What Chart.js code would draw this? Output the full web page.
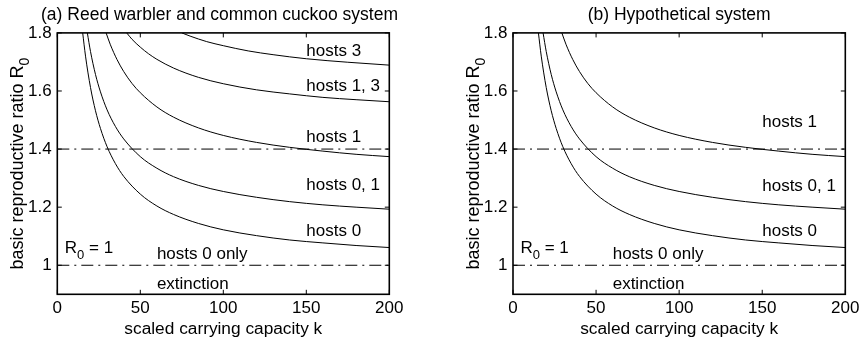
<!DOCTYPE html>
<html>
<head>
<meta charset="utf-8">
<script src="https://cdn.jsdelivr.net/npm/chart.js@4.4.1/dist/chart.umd.min.js"></script>
<style>
html,body{margin:0;padding:0;background:#fff;}
#wrap{position:relative;width:862px;height:345px;overflow:hidden;background:#fff;}
.pane{position:absolute;top:0;height:345px;}
</style>
</head>
<body>
<div id="wrap">
  <div class="pane" style="left:0;width:439px"><canvas id="ca" width="439" height="345"></canvas></div>
  <div class="pane" style="left:431px;width:431px"><canvas id="cb" width="431" height="345"></canvas></div>
</div>
<script>
// ---- data ----
const kTicks = [0, 50, 100, 150, 200];
const rTicks = [1, 1.2, 1.4, 1.6, 1.8];

const kHosts0 = [15.3, 17, 20, 23, 26, 30, 35, 40, 50, 60, 70, 85, 100, 120, 140, 160, 180, 200];
const rHosts0 = [1.800, 1.720, 1.612, 1.532, 1.471, 1.408, 1.350, 1.306, 1.245, 1.204, 1.175, 1.144, 1.122, 1.102, 1.087, 1.077, 1.068, 1.061];

const kHosts01 = [18.1, 20, 23, 26, 30, 35, 40, 50, 60, 70, 85, 100, 120, 140, 160, 180, 200];
const rHosts01 = [1.800, 1.736, 1.657, 1.597, 1.535, 1.478, 1.435, 1.374, 1.334, 1.305, 1.275, 1.254, 1.234, 1.219, 1.208, 1.200, 1.193];

const kHosts1 = [29.4, 32, 36, 40, 45, 50, 60, 70, 85, 100, 120, 140, 160, 180, 200];
const rHosts1 = [1.800, 1.759, 1.708, 1.667, 1.626, 1.594, 1.545, 1.510, 1.473, 1.447, 1.423, 1.406, 1.393, 1.382, 1.374];

const kHosts13 = [41.8, 45, 50, 55, 60, 70, 85, 100, 120, 140, 160, 180, 200];
const rHosts13 = [1.800, 1.778, 1.751, 1.728, 1.709, 1.679, 1.647, 1.625, 1.604, 1.590, 1.578, 1.570, 1.563];

const kHosts3 = [75, 80, 90, 100, 115, 130, 150, 175, 200];
const rHosts3 = [1.800, 1.789, 1.770, 1.756, 1.738, 1.725, 1.711, 1.699, 1.689];

const kThresholdSpan = [0, 200];
const rThresholds = [1.4, 1.0];

const panelTitles = ['(a) Reed warbler and common cuckoo system', '(b) Hypothetical system'];
const xAxisTitle = 'scaled carrying capacity k';
const yAxisTitle = 'basic reproductive ratio R';
const yAxisSub = '0';

// region labels (text, k, R at baseline)
const labelTextsA = ['hosts 3', 'hosts 1, 3', 'hosts 1', 'hosts 0, 1', 'hosts 0', 'hosts 0 only', 'extinction'];
const labelKA = [150, 150, 150, 150, 150, 60, 60];
const labelRA = [1.72, 1.60, 1.426, 1.26, 1.10, 1.023, 0.917];
const labelTextsB = ['hosts 1', 'hosts 0, 1', 'hosts 0', 'hosts 0 only', 'extinction'];
const labelKB = [150, 150, 150, 60, 60];
const labelRB = [1.477, 1.257, 1.102, 1.023, 0.917];
const r0LabelK = 4.5, r0LabelR = 1.043;

// ---- rendering ----
const FONT = '"Liberation Sans", Arial, Helvetica, sans-serif';
Chart.defaults.font.family = FONT;
Chart.defaults.font.size = 17;
Chart.defaults.color = '#000';

function curve(k, r) {
  return {
    data: k.map((x, i) => ({x: x, y: r[i]})),
    showLine: true, borderColor: '#000', borderWidth: 1, pointRadius: 0,
    cubicInterpolationMode: 'monotone', fill: false
  };
}
function threshold(level) {
  return {
    data: kThresholdSpan.map(x => ({x: x, y: level})),
    showLine: true, borderColor: '#000', borderWidth: 1, pointRadius: 0,
    borderDash: [12, 5, 2, 5], fill: false
  };
}

const decor = {
  id: 'decor',
  afterDraw(chart, args, opts) {
    const {ctx, chartArea: a, scales: {x, y}} = chart;
    ctx.save();
    ctx.fillStyle = '#000';
    ctx.textBaseline = 'alphabetic';
    ctx.textAlign = 'left';
    ctx.font = '17px ' + FONT;
    opts.texts.forEach((t, i) => {
      ctx.fillText(t, x.getPixelForValue(opts.ks[i]), y.getPixelForValue(opts.rs[i]));
    });
    // R0 = 1
    let px = x.getPixelForValue(r0LabelK), py = y.getPixelForValue(r0LabelR);
    ctx.fillText('R', px, py);
    px += ctx.measureText('R').width;
    ctx.font = '13px ' + FONT;
    ctx.fillText('0', px, py + 6);
    px += ctx.measureText('0').width;
    ctx.font = '17px ' + FONT;
    ctx.fillText(' = 1', px, py);
    // y axis title (rotated, with subscript)
    ctx.font = '18px ' + FONT;
    const w1 = ctx.measureText(yAxisTitle).width;
    ctx.font = '14px ' + FONT;
    const w2 = ctx.measureText(yAxisSub).width;
    const cy = (a.top + a.bottom) / 2;
    ctx.translate(a.left - 34, cy + (w1 + w2) / 2);
    ctx.rotate(-Math.PI / 2);
    ctx.font = '18px ' + FONT;
    ctx.fillText(yAxisTitle, 0, 0);
    ctx.font = '14px ' + FONT;
    ctx.fillText(yAxisSub, w1, 6);
    ctx.setTransform(1, 0, 0, 1, 0, 0);
    // box and inward ticks
    const TL = 4.5;
    ctx.strokeStyle = '#000';
    ctx.lineWidth = 1;
    ctx.beginPath();
    kTicks.forEach(v => {
      const p = x.getPixelForValue(v);
      ctx.moveTo(p, a.bottom); ctx.lineTo(p, a.bottom - TL);
      ctx.moveTo(p, a.top); ctx.lineTo(p, a.top + TL);
    });
    rTicks.forEach(v => {
      const p = y.getPixelForValue(v);
      ctx.moveTo(a.left, p); ctx.lineTo(a.left + TL, p);
      ctx.moveTo(a.right, p); ctx.lineTo(a.right - TL, p);
    });
    ctx.stroke();
    ctx.lineWidth = 1.6;
    ctx.strokeRect(a.left, a.top, a.right - a.left, a.bottom - a.top);
    ctx.restore();
  }
};

function makeChart(id, datasets, title, titleFull, pad, yWidth, rightWidth, texts, ks, rs) {
  const scales = {
    x: {
      type: 'linear', min: 0, max: 200,
      afterBuildTicks: s => { s.ticks = kTicks.map(v => ({value: v})); },
      afterFit: s => { s.height = 50.7; s.paddingLeft = 0; s.paddingRight = 0; },
      grid: {display: false, drawTicks: false}, border: {display: false},
      ticks: {padding: 4, color: '#000', maxRotation: 0, autoSkip: false, font: {size: 17}},
      title: {display: true, text: xAxisTitle, color: '#000', font: {size: 17.3}, padding: {top: 0, bottom: 5.8}}
    },
    y: {
      type: 'linear', min: 0.9, max: 1.8,
      afterBuildTicks: s => { s.ticks = rTicks.map(v => ({value: v})); },
      afterFit: s => { s.width = yWidth; s.paddingTop = 0; s.paddingBottom = 0; },
      grid: {display: false, drawTicks: false}, border: {display: false},
      ticks: {padding: 5.6, color: '#000', font: {size: 17}, callback: v => String(v)}
    }
  };
  if (rightWidth > 0) {
    scales.yr = {
      type: 'linear', position: 'right', display: true, min: 0.9, max: 1.8,
      afterFit: s => { s.width = rightWidth; s.paddingTop = 0; s.paddingBottom = 0; },
      grid: {display: false, drawTicks: false}, border: {display: false},
      ticks: {display: false}
    };
  }
  return new Chart(document.getElementById(id), {
    type: 'scatter',
    data: {datasets: datasets},
    plugins: [decor],
    options: {
      responsive: false, animation: false, devicePixelRatio: 1,
      layout: {padding: pad},
      plugins: {
        legend: {display: false}, tooltip: {enabled: false},
        title: {display: true, text: title, fullSize: titleFull, color: '#000',
                font: {size: 17.5, weight: 'normal'}, padding: {top: 4.6, bottom: 7.3}},
        decor: {texts: texts, ks: ks, rs: rs}
      },
      scales: scales
    }
  });
}

const dsA = [threshold(rThresholds[0]), threshold(rThresholds[1]),
  curve(kHosts0, rHosts0), curve(kHosts01, rHosts01), curve(kHosts1, rHosts1),
  curve(kHosts13, rHosts13), curve(kHosts3, rHosts3)];
const dsB = [threshold(rThresholds[0]), threshold(rThresholds[1]),
  curve(kHosts0, rHosts0), curve(kHosts01, rHosts01), curve(kHosts1, rHosts1)];

makeChart('ca', dsA, panelTitles[0], true, {left: 0, right: 0, top: 0, bottom: 0}, 57.3, 49.7, labelTextsA, labelKA, labelRA);
makeChart('cb', dsB, panelTitles[1], false, {left: 0, right: 16.7, top: 0, bottom: 0}, 82, 0, labelTextsB, labelKB, labelRB);
</script>
</body>
</html>
